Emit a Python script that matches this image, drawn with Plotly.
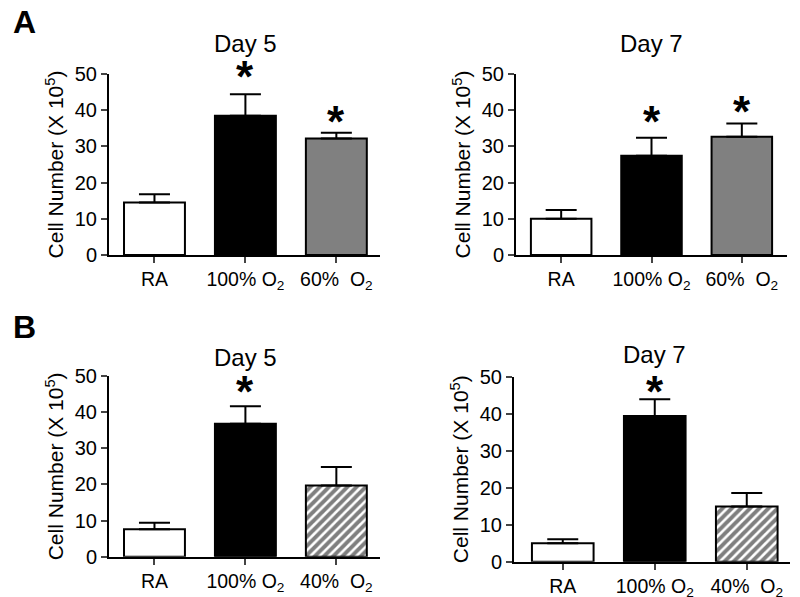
import plotly.graph_objects as go

# ---------------- data ----------------
cat_A = ["RA", "100% O2", "60%  O2"]
cat_B = ["RA", "100% O2", "40%  O2"]
tick_A = ["RA", "100% O<sub>2</sub>", "60%  O<sub>2</sub>"]
tick_B = ["RA", "100% O<sub>2</sub>", "40%  O<sub>2</sub>"]

a_day5_mean = [14.5, 38.5, 32.2]
a_day5_err = [2.3, 5.9, 1.6]
a_day7_mean = [10.0, 27.4, 32.7]
a_day7_err = [2.4, 5.0, 3.6]
b_day5_mean = [7.6, 36.8, 19.7]
b_day5_err = [1.8, 4.8, 5.1]
b_day7_mean = [5.0, 39.4, 14.9]
b_day7_err = [1.05, 4.5, 3.7]

# significance stars: category index and y value of star centre
a_day5_star_x, a_day5_star_y = [1, 2], [51.2, 38.7]
a_day7_star_x, a_day7_star_y = [1, 2], [38.7, 41.7]
b_day5_star_x, b_day5_star_y = [1], [47.6]
b_day7_star_x, b_day7_star_y = [1], [47.8]

y_ticks = [0, 10, 20, 30, 40, 50]
Y_MAX = 50

FONT = "Liberation Sans, Arial, sans-serif"
W, H = 800, 597

panels = [
    dict(title="Day 5", mean=a_day5_mean, err=a_day5_err, cats=cat_A, ticks=tick_A,
         sx=a_day5_star_x, sy=a_day5_star_y, third="gray",
         xpx=(109, 380), ypx=(255, 74), xr=[-0.5, 2.48], title_y=43),
    dict(title="Day 7", mean=a_day7_mean, err=a_day7_err, cats=cat_A, ticks=tick_A,
         sx=a_day7_star_x, sy=a_day7_star_y, third="gray",
         xpx=(516, 787), ypx=(255, 74), xr=[-0.5, 2.5], title_y=43),
    dict(title="Day 5", mean=b_day5_mean, err=b_day5_err, cats=cat_B, ticks=tick_B,
         sx=b_day5_star_x, sy=b_day5_star_y, third="hatch",
         xpx=(109, 380), ypx=(556.7, 376), xr=[-0.5, 2.48], title_y=357),
    dict(title="Day 7", mean=b_day7_mean, err=b_day7_err, cats=cat_B, ticks=tick_B,
         sx=b_day7_star_x, sy=b_day7_star_y, third="hatch",
         xpx=(514, 790), ypx=(561.7, 376.7), xr=[-0.53, 2.47], title_y=355),
]

fig = go.Figure()
layout = dict(
    width=W, height=H,
    margin=dict(l=0, r=0, t=0, b=0, autoexpand=False),
    paper_bgcolor="white", plot_bgcolor="white",
    showlegend=False, barmode="overlay",
    font=dict(family=FONT, color="black"),
)
annotations = []

for i, p in enumerate(panels):
    n = "" if i == 0 else str(i + 1)
    xa, ya = "x" + n, "y" + n
    xpos = list(range(len(p["cats"])))
    third_fill = "#808080" if p["third"] == "gray" else "white"
    fills = ["white", "black", third_fill]
    for k in xpos:
        marker = dict(color=fills[k], line=dict(color="black", width=2))
        if k == 2 and p["third"] == "hatch":
            marker["pattern"] = dict(shape="/", fgcolor="black", bgcolor="white",
                                     size=6.5, solidity=0.6)
        fig.add_trace(go.Bar(
            x=[xpos[k]], y=[p["mean"][k]], xaxis=xa, yaxis=ya, width=0.67,
            marker=marker,
            error_y=dict(type="data", array=[p["err"][k]], arrayminus=[0],
                         symmetric=False, color="black", thickness=2, width=15.5),
            cliponaxis=False, hoverinfo="skip",
        ))
    for sx, sy in zip(p["sx"], p["sy"]):
        annotations.append(dict(
            text="<b>*</b>", xref=xa, yref=ya + " domain", x=sx, y=sy / Y_MAX,
            xanchor="center", yanchor="middle", yshift=-7, showarrow=False,
            font=dict(size=44, family=FONT, color="black"),
        ))
    x0, x1 = p["xpx"]
    yb, yt = p["ypx"]
    layout["xaxis" + n] = dict(
        domain=[x0 / W, x1 / W], anchor=ya, range=p["xr"],
        tickvals=xpos, ticktext=p["ticks"], ticks="outside", ticklen=6, tickwidth=2,
        showline=True, linecolor="black", linewidth=2, showgrid=False, zeroline=False,
        tickfont=dict(size=19.5, family=FONT, color="black"), fixedrange=True,
    )
    layout["yaxis" + n] = dict(
        domain=[1 - yb / H, 1 - yt / H], anchor=xa, range=[0, Y_MAX],
        tickvals=y_ticks, ticks="outside", ticklen=6, tickwidth=2,
        showline=True, linecolor="black", linewidth=2, showgrid=False, zeroline=False,
        tickfont=dict(size=20, family=FONT, color="black"),
        title=dict(text="Cell Number (X 10<sup>5</sup>)", font=dict(size=21, family=FONT, color="black"),
                   standoff=5),
        fixedrange=True,
    )
    annotations.append(dict(
        text=p["title"], xref=xa, yref="paper", x=1, y=1 - p["title_y"] / H,
        xanchor="center", yanchor="middle", showarrow=False,
        font=dict(size=24, family=FONT, color="black"),
    ))

annotations.append(dict(text="<b>A</b>", xref="paper", yref="paper", x=24 / W, y=1 - 22 / H,
                        xanchor="center", yanchor="middle", showarrow=False,
                        font=dict(size=32, family=FONT, color="black")))
annotations.append(dict(text="<b>B</b>", xref="paper", yref="paper", x=24 / W, y=1 - 327 / H,
                        xanchor="center", yanchor="middle", showarrow=False,
                        font=dict(size=32, family=FONT, color="black")))
layout["annotations"] = annotations
fig.update_layout(**layout)
fig.write_html("out.html", config={"displayModeBar": False},
               post_script="document.body.style.margin='0';document.body.style.overflow='hidden';")
